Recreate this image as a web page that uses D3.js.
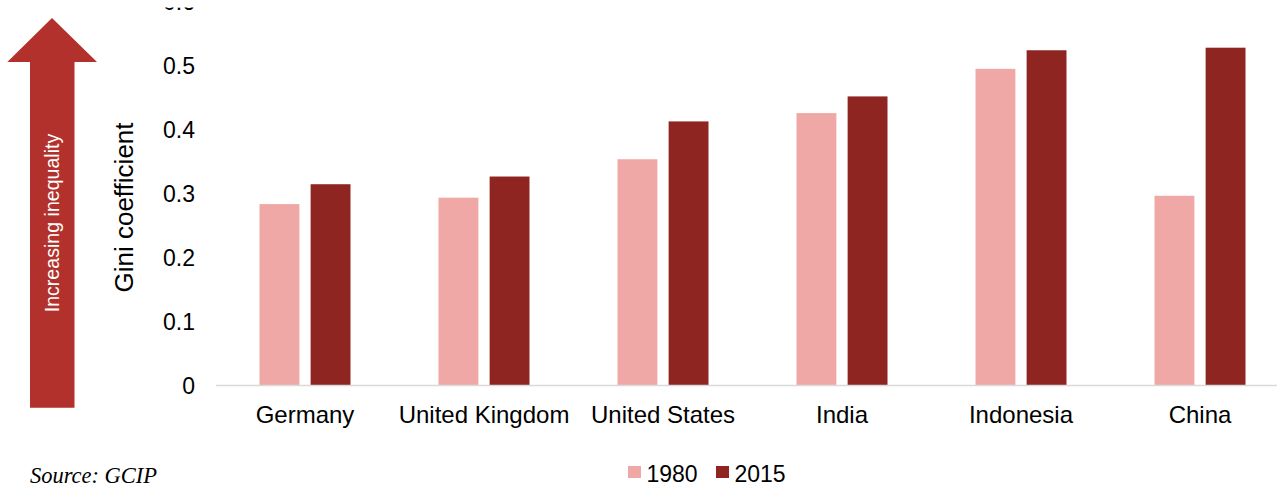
<!DOCTYPE html>
<html>
<head>
<meta charset="utf-8">
<script src="https://cdn.jsdelivr.net/npm/d3@7"></script>
<style>
  html, body { margin: 0; padding: 0; background: #fff; }
  svg { display: block; }
  text { font-family: "Liberation Sans", Arial, sans-serif; fill: #000; }
</style>
</head>
<body>
<script>
const categories = ["Germany", "United Kingdom", "United States", "India", "Indonesia", "China"];
const series = ["1980", "2015"];
const values1980 = [0.283, 0.293, 0.353, 0.425, 0.494, 0.296];
const values2015 = [0.314, 0.326, 0.412, 0.451, 0.523, 0.527];
const yTicks = [0, 0.1, 0.2, 0.3, 0.4, 0.5, 0.6];
const colors = ["#f0a8a6", "#8e2521"];

const W = 1277, H = 484;
const svg = d3.select("body").append("svg").attr("width", W).attr("height", H);

// clip to emulate the cropped top of the source figure
svg.append("defs").append("clipPath").attr("id", "topcrop")
  .append("rect").attr("x", 0).attr("y", 7.6).attr("width", W).attr("height", H);

const x0 = d3.scaleBand().domain(categories).range([215.5, 1289.5]).padding(0);
const x1 = d3.scaleBand().domain(series).range([44, 135]).paddingInner(0.22);
const y = d3.scaleLinear().domain([0, 0.6]).range([385.5, 0.9]);

const data = categories.map((c, i) => ({ cat: c, vals: [values1980[i], values2015[i]] }));

// bars
const g = svg.append("g");
g.selectAll("g.grp").data(data).join("g")
  .attr("class", "grp")
  .attr("transform", d => `translate(${x0(d.cat)},0)`)
  .selectAll("rect").data(d => d.vals.map((v, j) => ({ s: series[j], v, j })))
  .join("rect")
  .attr("x", d => x1(d.s))
  .attr("width", x1.bandwidth())
  .attr("y", d => y(d.v))
  .attr("height", d => y(0) - y(d.v))
  .attr("fill", d => colors[d.j]);

// baseline
svg.append("line")
  .attr("x1", 216).attr("x2", W)
  .attr("y1", y(0)).attr("y2", y(0))
  .attr("stroke", "#d9d9d9").attr("stroke-width", 1.7);

// y axis (labels only)
const yAxis = d3.axisLeft(y).tickValues(yTicks)
  .tickFormat(d => d === 0 ? "0" : d3.format(".1f")(d))
  .tickSize(0).tickPadding(0);
const yaWrap = svg.append("g").attr("clip-path", "url(#topcrop)");
const ya = yaWrap.append("g").attr("transform", "translate(195,0)").call(yAxis);
ya.select(".domain").remove();
ya.selectAll("text").attr("font-size", 23).attr("font-family", "Liberation Sans, Arial, sans-serif").attr("fill", "#000").attr("dy", "0.36em");

// x axis (labels only)
const xAxis = d3.axisBottom(x0).tickSize(0).tickPadding(0);
const xa = svg.append("g").call(xAxis);
xa.select(".domain").remove();
xa.selectAll("text").attr("font-size", 24).attr("font-family", "Liberation Sans, Arial, sans-serif").attr("fill", "#000")
  .attr("y", 423).attr("dy", null);

// y axis title
svg.append("text")
  .attr("transform", "translate(133,207.5) rotate(-90)")
  .attr("text-anchor", "middle")
  .attr("font-size", 26)
  .text("Gini coefficient");

// arrow
svg.append("path")
  .attr("d", "M30,407.7 L30,62 L7.3,62 L52,18 L97,62 L74.5,62 L74.5,407.7 Z")
  .attr("fill", "#b3312c");
svg.append("text")
  .attr("transform", "translate(58.5,223) rotate(-90)")
  .attr("text-anchor", "middle")
  .attr("font-size", 19.6)
  .style("fill", "#fff")
  .text("Increasing inequality");

// legend
const leg = svg.append("g");
const legX = [628, 716];
series.forEach((s, i) => {
  leg.append("rect").attr("x", legX[i]).attr("y", 466).attr("width", 13).attr("height", 12).attr("fill", colors[i]);
  leg.append("text").attr("x", legX[i] + 18.5).attr("y", 481.5).attr("font-size", 23).text(s);
});

// source
svg.append("text")
  .attr("x", 30).attr("y", 483)
  .attr("font-style", "italic")
  .attr("font-size", 22.5)
  .attr("textLength", 127)
  .style("font-family", "'Liberation Serif', 'Times New Roman', serif")
  .text("Source: GCIP");
</script>
</body>
</html>
